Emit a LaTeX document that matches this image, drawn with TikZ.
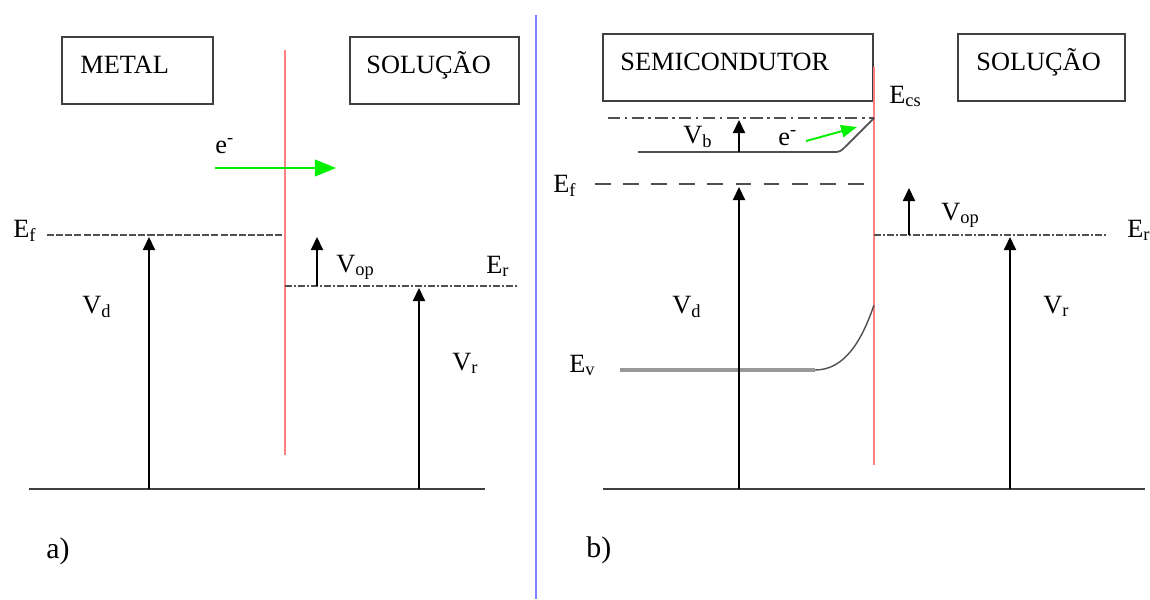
\documentclass[tikz,border=0pt]{standalone}
\usepackage{fontspec}
\setmainfont{Liberation Serif}
\usetikzlibrary{arrows.meta}

\definecolor{ifaceline}{HTML}{FF8080}
\definecolor{eflow}{HTML}{00F000}
\definecolor{panelsep}{HTML}{7F7FFF}
\definecolor{boxline}{HTML}{404040}
\definecolor{levelline}{HTML}{505050}

\tikzset{
  regionbox/.style={draw=boxline,line width=1pt,inner sep=0pt},
  lbl/.style={inner sep=0pt,anchor=base west},
  uparrow/.style={line width=0.8pt,-{Triangle[length=7.5pt,width=7pt]}},
  greenarrow/.style={eflow,line width=1.1pt,-{Triangle[length=12pt,width=9.5pt]}},
  iface/.style={ifaceline,line width=1.2pt},
  groundline/.style={boxline,line width=1pt},
  finedash/.style={levelline,line width=0.6pt,dash pattern=on 4pt off 1.2pt},
  dashdot/.style={levelline,line width=0.6pt,dash pattern=on 4pt off 1.2pt on 1pt off 1.2pt},
  longdash/.style={levelline,line width=0.6pt,dash pattern=on 9pt off 7pt},
  chaindash/.style={levelline,line width=0.8pt,dash pattern=on 7pt off 2.5pt on 1.5pt off 2.5pt},
}

\begin{document}
\begin{tikzpicture}[x=0.02cm,y=-0.02cm,font=\fontsize{15}{17}\selectfont]
  \useasboundingbox (0,0) rectangle (1150,599);

  % panel divider
  \coordinate (sep-top) at (536,15);
  \coordinate (sep-bot) at (536,599);
  \draw[panelsep,line width=1.7pt] (sep-top) -- (sep-bot);

  % (a) metal / solution interface
  \begin{scope}
    \node[regionbox,minimum width=3.02cm,minimum height=1.34cm] (metalbox) at (137.5,70.5) {};
    \node[lbl] (metal) at (80,73) {METAL};
    \node[regionbox,minimum width=3.38cm,minimum height=1.34cm] (solAbox) at (434.5,70.5) {};
    \node[lbl] (solA) at (366,73) {SOLUÇÃO};

    \coordinate (ifA-top) at (285,50);
    \coordinate (ifA-bot) at (285,455);
    \draw[iface] (ifA-top) -- (ifA-bot);

    \node[lbl] (elA) at (215,153) {e\textsuperscript{-}};
    \coordinate (elA-s) at (215,168);
    \coordinate (elA-e) at (336,168);
    \draw[greenarrow] (elA-s) -- (elA-e);

    \coordinate (efA-w) at (47,235);
    \coordinate (efA-e) at (283,235);
    \draw[finedash] (efA-w) -- (efA-e);
    \coordinate (erA-w) at (285,286);
    \coordinate (erA-e) at (517,286);
    \draw[dashdot] (erA-w) -- (erA-e);
    \coordinate (baseA-w) at (29,489);
    \coordinate (baseA-e) at (485,489);
    \draw[groundline] (baseA-w) -- (baseA-e);

    \foreach \n/\x/\ya/\yb in {vdA/149/489/237,vopA/317/286/237,vrA/419/489/288} {
      \coordinate (\n-s) at (\x,\ya);
      \coordinate (\n-e) at (\x,\yb);
      \draw[uparrow] (\n-s) -- (\n-e);
    }

    \node[lbl] (efAlab) at (13,237) {E\textsubscript{f}};
    \node[lbl] (vopAlab) at (336,272) {V\textsubscript{op}};
    \node[lbl] (erAlab) at (486,273) {E\textsubscript{r}};
    \node[lbl] (vdAlab) at (82,313) {V\textsubscript{d}};
    \node[lbl] (vrAlab) at (452,370) {V\textsubscript{r}};
    \node[lbl,font=\fontsize{17}{19}\selectfont] (tagA) at (46,558) {a)};
  \end{scope}

  % (b) semiconductor / solution interface
  \begin{scope}
    \node[regionbox,minimum width=5.4cm,minimum height=1.34cm] (semibox) at (738,67.5) {};
    \node[lbl] (semi) at (620,70) {SEMICONDUTOR};
    \node[regionbox,minimum width=3.34cm,minimum height=1.34cm] (solBbox) at (1041.5,67.5) {};
    \node[lbl] (solB) at (976,70) {SOLUÇÃO};

    \coordinate (ifB-top) at (874,67);
    \coordinate (ifB-bot) at (874,465);
    \draw[iface] (ifB-top) -- (ifB-bot);

    \coordinate (ecB-w) at (608,118);
    \coordinate (ecB-e) at (874,118);
    \draw[chaindash] (ecB-w) -- (ecB-e);
    \coordinate (cbB-w) at (638,152);
    \coordinate (cbB-k) at (832,152);
    \draw[levelline,line width=1pt] (cbB-w) -- (cbB-k)
      .. controls (840,152) .. (846,146) -- (ecB-e);
    \coordinate (efB-w) at (595,184);
    \coordinate (efB-e) at (871,184);
    \draw[longdash] (efB-w) -- (efB-e);
    \coordinate (evB-w) at (620,370);
    \coordinate (evB-k) at (815,370);
    \coordinate (evB-e) at (874,305);
    \draw[gray!80,line width=2pt] (evB-w) -- (evB-k);
    \draw[levelline,line width=0.8pt] (evB-k) .. controls (845,370) and (862,340) .. (evB-e);
    \coordinate (erB-w) at (874,235);
    \coordinate (erB-e) at (1107,235);
    \draw[dashdot] (erB-w) -- (erB-e);
    \coordinate (baseB-w) at (603,489);
    \coordinate (baseB-e) at (1145,489);
    \draw[groundline] (baseB-w) -- (baseB-e);

    \foreach \n/\x/\ya/\yb in {vbB/739/152/120,vdB/739/489/187,vopB/909/235/188,vrB/1010/489/237} {
      \coordinate (\n-s) at (\x,\ya);
      \coordinate (\n-e) at (\x,\yb);
      \draw[uparrow] (\n-s) -- (\n-e);
    }

    \node[lbl] (elB) at (778,145) {e\textsuperscript{-}};
    \coordinate (elB-s) at (806,141);
    \coordinate (elB-e) at (857,127);
    \draw[eflow,line width=1.1pt,-{Triangle[length=9pt,width=7pt]}] (elB-s) -- (elB-e);

    \node[lbl] (ecBlab) at (889,103) {E\textsubscript{cs}};
    \node[lbl] (vbBlab) at (683,143) {V\textsubscript{b}};
    \node[lbl] (efBlab) at (553,192) {E\textsubscript{f}};
    \node[lbl] (vopBlab) at (941,220) {V\textsubscript{op}};
    \node[lbl] (erBlab) at (1127,237) {E\textsubscript{r}};
    \node[lbl] (vdBlab) at (672,313) {V\textsubscript{d}};
    \node[lbl] (vrBlab) at (1043,313) {V\textsubscript{r}};
    \node[lbl] (evBlab) at (569,372) {E\textsubscript{v}};
    \node[lbl,font=\fontsize{17}{19}\selectfont] (tagB) at (586,557) {b)};
  \end{scope}
\end{tikzpicture}
\end{document}
